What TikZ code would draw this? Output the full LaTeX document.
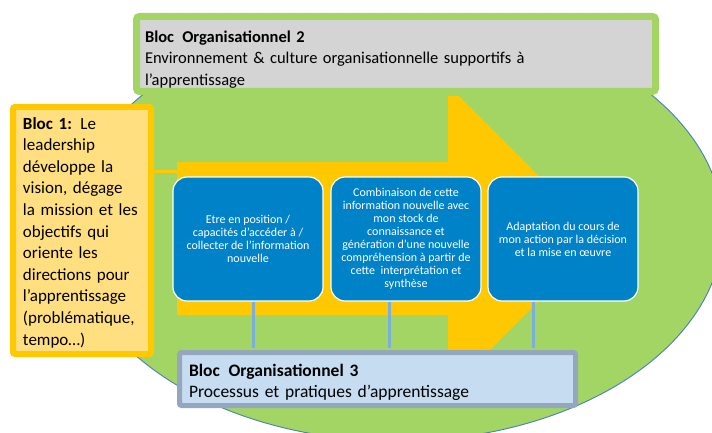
\documentclass[tikz,border=0pt]{standalone}
\usepackage{fontspec}
\setmainfont{Carlito}
\usetikzlibrary{calc}
\definecolor{ellgreen}{HTML}{A2D563}
\definecolor{elloutline}{HTML}{4A7EBB}
\definecolor{arrowgold}{HTML}{FFC800}
\definecolor{bgray}{HTML}{D4D4D4}
\definecolor{lightyellow}{HTML}{FFDF80}
\definecolor{boxblue}{HTML}{0082C8}
\definecolor{bthreefill}{HTML}{C6DCF0}
\definecolor{bthreeborder}{HTML}{95A7BE}
\definecolor{linkblue}{HTML}{7AAEDC}
\begin{document}
\begin{tikzpicture}[x=1pt,y=-1pt,
  bloc/.style={rectangle, align=left, inner ysep=0pt, text=black},
  stepbox/.style={rectangle, rounded corners=14pt, fill=boxblue, draw=white,
    line width=1.2pt, minimum width=150pt, minimum height=124pt, inner sep=2pt,
    align=center, text=white, font=\fontsize{12}{13}\selectfont},
  link/.style={draw=linkblue, line width=3pt, shorten >=2.5pt},
  goldlink/.style={draw=arrowgold, line width=3pt}]
\useasboundingbox (0,0) rectangle (712,433);
\clip (0,0) rectangle (712,433);
% ellipse background
\draw[fill=ellgreen, draw=elloutline, line width=0.9pt] (397,228) ellipse [x radius=326pt, y radius=213pt];
% big arrow
\fill[arrowgold] (177,162) -- (448,162) -- (448,96) -- (459,96) -- (601,238.5)
  -- (459,381) -- (448,381) -- (448,315) -- (177,315) -- cycle;
\coordinate (tail) at (177,171);
% Bloc 2
\node[bloc, draw=ellgreen, fill=bgray, line width=7pt, rounded corners=3pt,
  minimum width=519pt, minimum height=75pt, text width=502pt, inner xsep=8.5pt,
  font=\fontsize{16.5}{21.5}\selectfont]
  (bloc2) at (396,54)
  {\rule{0pt}{22pt}\textbf{Bloc\hspace{0.5em}Organisationnel 2}\\Environnement \& culture organisationnelle supportifs à\\l’apprentissage};
% Bloc 1
\node[bloc, draw=arrowgold, fill=lightyellow, line width=6pt, rounded corners=2pt,
  minimum width=138pt, minimum height=247pt, text width=118pt, inner xsep=10pt,
  font=\fontsize{17}{21.6}\selectfont]
  (bloc1) at (82,230.5)
  {\rule{0pt}{16pt}\textbf{Bloc 1:} Le\\leadership\\développe la\\vision, dégage\\la mission et les\\objectifs qui\\oriente les\\directions pour\\l’apprentissage\\(problématique,\\tempo…)};
\draw[goldlink] (bloc1.east |- tail) -- (tail);
% process steps
\node[stepbox] (s1) at (248,239) {Etre en position /\\capacités d’accéder à /\\collecter de l’information\\nouvelle};
\node[stepbox] (s2) at (406,239) {Combinaison de cette\\information nouvelle avec\\mon stock de\\connaissance et\\génération d’une nouvelle\\compréhension à partir de\\cette\hspace{0.45em}interprétation et\\synthèse};
\node[stepbox] (s3) at (563,239) {Adaptation du cours de\\mon action par la décision\\et la mise en œuvre};
% Bloc 3
\node[bloc, draw=bthreeborder, fill=bthreefill, line width=5pt, rounded corners=2pt,
  minimum width=396pt, minimum height=53pt, text width=377pt, inner xsep=9.5pt,
  font=\fontsize{17.5}{21}\selectfont]
  (bloc3) at (377.5,379)
  {\rule{0pt}{20pt}\textbf{Bloc\hspace{0.5em}Organisationnel 3}\\Processus et pratiques d’apprentissage};
\draw[link] ([xshift=5pt]s1.south) -- ([xshift=5pt]s1.south |- bloc3.north);
\draw[link] ([xshift=-17pt]s2.south) -- ([xshift=-17pt]s2.south |- bloc3.north);
\draw[link] ([xshift=-30pt]s3.south) -- ([xshift=-30pt]s3.south |- bloc3.north);
\end{tikzpicture}
\end{document}
